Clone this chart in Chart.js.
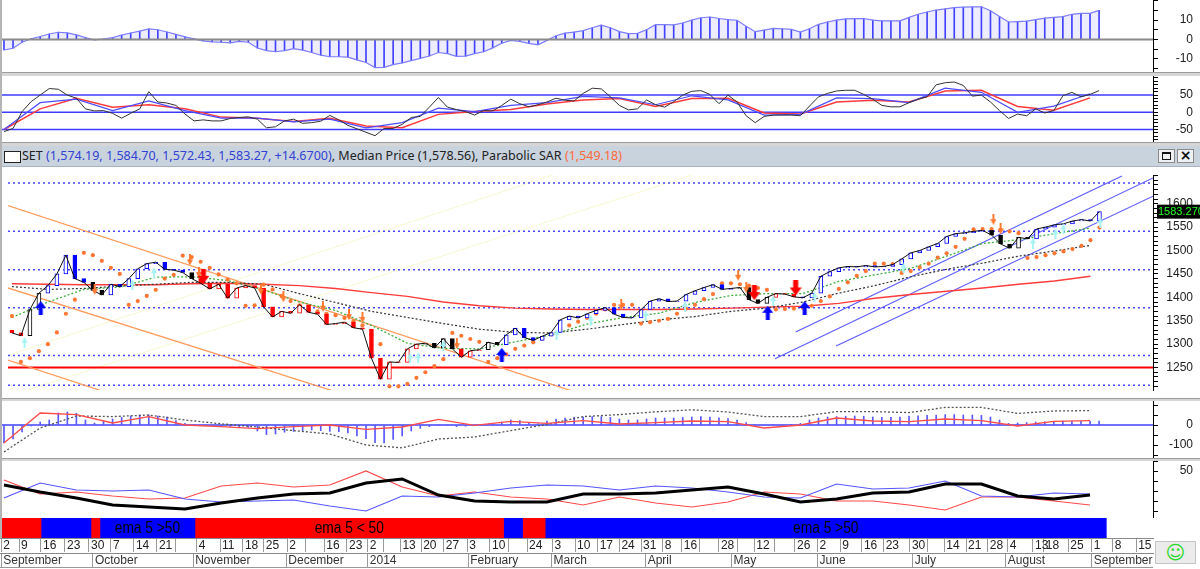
<!DOCTYPE html>
<html>
<head>
<meta charset="utf-8">
<script src="https://cdn.jsdelivr.net/npm/chart.js@4.4.1/dist/chart.umd.min.js"></script>
<style>
  html, body { margin: 0; padding: 0; background: #fff; }
  body { width: 1200px; height: 569px; position: relative; overflow: hidden; font-family: 'Liberation Sans', Arial, sans-serif; }
  canvas { position: absolute; left: 0; }
  .sep { position: absolute; left: 0; width: 1200px; background: #d6d6d6; border-top: 1px solid #9c9c9c; box-sizing: border-box; }
  #title { position: absolute; left: 0; top: 146px; width: 1200px; height: 21px; background: #c9d3de; border-bottom: 1px solid #a9b3c0; box-sizing: border-box;
           font: 12.5px 'Noto Sans', 'Open Sans', sans-serif; white-space: nowrap; }
  #title .ico { position: absolute; left: 4px; top: 5px; width: 15px; height: 10px; border: 1px solid #222; background: #fff; }
  #title .txt { position: absolute; left: 22px; top: 1px; color: #222; }
  #title .b { color: #3242d2; }
  #title .o { color: #ff6a3a; }
  .btn { position: absolute; top: 3px; width: 17px; height: 14px; background: #eef0f3; border: 1px solid #8a8a8a; box-sizing: border-box; }
  .btn .sq { position: absolute; left: 3px; top: 2px; width: 9px; height: 8px; border: 1px solid #111; border-top-width: 2px; box-sizing: border-box; }
  .btn .x { position: absolute; left: 0; top: -3px; width: 15px; text-align: center; font: bold 14px 'DejaVu Sans', sans-serif; color: #111; }
  #smile { position: absolute; left: 1155px; top: 541px; width: 41px; height: 23px; background: #ebebeb; border: 1px solid #c4c4c4; box-sizing: border-box;
           text-align: center; font: 19px 'DejaVu Sans', sans-serif; line-height: 21px; color: #2ad82a; }
  .vline { position: absolute; background: #b4b4b4; }
</style>
</head>
<body>
<canvas id="p1" width="1200" height="72" style="top:0px"></canvas>
<div class="sep" style="top:72px;height:4px"></div>
<canvas id="p2" width="1200" height="66" style="top:76px"></canvas>
<div class="sep" style="top:142px;height:4px"></div>
<div id="title">
  <div class="ico"></div>
  <div class="txt">SET <span class="b">(1,574.19, 1,584.70, 1,572.43, 1,583.27, +14.6700)</span>, Median Price (1,578.56), Parabolic SAR <span class="o">(1,549.18)</span></div>
  <div class="btn" style="left:1158px"><div class="sq"></div></div>
  <div class="btn" style="left:1177px"><div class="x">×</div></div>
</div>
<canvas id="main" width="1200" height="231" style="top:167px"></canvas>
<div class="sep" style="top:398px;height:3px"></div>
<canvas id="p4" width="1200" height="57" style="top:401px"></canvas>
<div class="sep" style="top:458px;height:3px"></div>
<canvas id="p5" width="1200" height="57" style="top:461px"></canvas>
<canvas id="p6" width="1200" height="51" style="top:518px"></canvas>
<div class="vline" style="left:0;top:0;width:2px;height:538px"></div>
<div class="vline" style="left:0;top:567px;width:1153px;height:1px;background:#999"></div>
<div id="smile">☺</div>
<script>
// x unit = one sample (two trading sessions), Sept 2 2013 = 0
const XMIN = -0.44;
const XMAX = 126.96;
const STEP = 4; // smoothed series are sampled every 4 units

// ---- main price panel ----
const FIRST_OPEN = 1330;
const CLOSE = [1324,1318,1374,1409,1425,1450,1490,1440,1432,1415,
  1405,1428,1423,1440,1461,1472,1475,1460,1458,1453,
  1440,1430,1418,1428,1398,1420,1425,1420,1380,1358,
  1370,1366,1384,1368,1364,1342,1344,1347,1335,1332,
  1270,1225,1262,1261,1290,1300,1302,1292,1312,1290,
  1272,1286,1288,1304,1299,1320,1334,1314,1308,1317,
  1325,1352,1360,1356,1365,1372,1378,1364,1357,1356,
  1374,1392,1397,1391,1392,1406,1414,1421,1427,1417,
  1419,1421,1395,1387,1400,1408,1407,1401,1399,1409,
  1445,1455,1463,1466,1465,1468,1465,1466,1470,1482,
  1495,1500,1508,1515,1530,1536,1538,1541,1543,1533,
  1514,1505,1528,1525,1546,1550,1555,1557,1563,1566,
  1563,1583];
const LAST_PRICE_LABEL = '1583.270';
const CANDLE_TRENDS = [[0,'down'],[2,'flat'],[4,'up'],[9,'flat'],[11,'up'],[20,'flat'],[21,'down'],[46,'flat'],[50,'down'],
  [53,'flat'],[55,'up'],[81,'flat'],[85,'down'],[88,'up'],[109,'flat'],[114,'up']];
const SAR = [1360,1262,1270,1285,1300,1325,1365,1395,1495,1490,
  1478,1463,1450,1384,1392,1403,1416,1440,1448,1489,
  1486,1476,1463,1449,1438,1430,1382,1383,1427,1417,
  1403,1392,1383,1375,1370,1365,1362,1356,1349,1340,
  1320,1300,1210,1210,1215,1228,1240,1253,1268,1324,
  1318,1311,1305,1262,1270,1278,1290,1297,1304,1312,
  1321,1331,1340,1348,1356,1365,1374,1384,1384,1384,
  1344,1347,1350,1354,1365,1376,1384,1396,1407,1430,
  1430,1428,1425,1420,1416,1374,1375,1376,1378,1382,
  1392,1402,1418,1432,1446,1456,1472,1472,1471,1452,
  1456,1464,1472,1485,1494,1508,1525,1545,1546,1546,
  1544,1541,1537,1484,1486,1490,1494,1498,1503,1510,
  1522,1549];
const EMA_FAST = [1357,1390,1417,1422,1443,1444,1436,1416,1390,1372,1340,1302,1291,1290,1305,1320,1343,1357,1366,1389,1404,1408,1408,1434,1448,1462,1488,1515,1523,1536,1548];
const EMA_MID = [1423,1417,1419,1424,1428,1432,1432,1428,1408,1389,1370,1357,1344,1332,1325,1324,1332,1342,1352,1359,1370,1377,1390,1409,1425,1444,1460,1473,1488,1499,1511];
const EMA_SLOW = [1429,1428,1427,1427,1427,1429,1430,1428,1425,1419,1410,1402,1390,1382,1377,1375,1374,1374,1374,1375,1377,1379,1381,1387,1398,1406,1413,1420,1428,1435,1445];
const LEVELS = [1644, 1541, 1459, 1378, 1276, 1212];
const SUPPORT_LEVEL = 1250;
const DOWN_CHANNEL = [[[-0.44,1596],[63.9,1190]], [[-0.44,1420],[37.4,1190]], [[-0.44,1266],[11.6,1190]]];
const UP_CHANNEL = [[[87.2,1326],[123.5,1659]], [[84.9,1269],[126.96,1655]], [[91.7,1296],[126.96,1616]]];
const FAINT_LINES = [[[-0.44,1276],[60.3,1662]], [[1.77,1202],[75.8,1662]]];
const BUY_BIG = [[3.2,1377],[54.5,1277],[84.1,1367],[88.2,1377]];
const SELL_BIG = [[21.3,1445],[82.6,1410],[87.2,1420]];
const SELL_SMALL = [[9.2,1417],[19.8,1480],[20.8,1453],[27.7,1417],[30.2,1401],[34.6,1381],[37.5,1363],[39,1357],
  [49.5,1301],[67.8,1384],[80.8,1447],[81.7,1421],[109.2,1566],[110,1546]];
const BUY_SMALL = [[1.4,1304],[13.4,1427],[15.8,1453],[44.3,1271],[45.2,1271],[48,1297],[60.6,1321],[64.4,1351],
  [70.5,1361],[74.9,1381],[84.7,1393],[89.3,1401],[99.2,1463],[113.6,1516],[116.1,1536],[117,1546],[121.1,1560]];

// ---- top histogram panel ----
const HIST1 = [-5.5,-4.6,-1.5,0.3,1.5,2.8,3.7,3.4,2.3,0.9,
  -0.3,0.2,0.9,2.2,3.3,4.3,5.4,5.0,3.8,2.6,
  1.3,0.3,-0.8,-1.3,-1.5,-1.8,-1.0,-1.5,-4.5,-5.8,
  -6.4,-5.8,-4.8,-5.6,-6.8,-8.2,-9.0,-9.0,-9.2,-10.6,
  -12.0,-14.6,-14.5,-13.1,-12.2,-11.0,-9.8,-8.6,-6.8,-7.4,
  -8.8,-8.7,-7.4,-6.4,-4.4,-2.0,-0.5,-1.0,-2.1,-2.8,
  -0.5,1.9,3.2,3.8,4.5,6.0,7.4,6.0,4.0,3.0,
  3.1,5.0,7.6,7.6,7.5,8.5,10.0,11.2,11.6,10.8,
  10.2,9.9,6.8,4.0,4.8,5.7,5.5,5.2,3.8,5.5,
  7.8,9.0,10.0,10.6,10.8,10.8,10.0,9.6,9.6,9.6,
  11.4,13.0,14.2,15.2,15.8,16.4,16.7,16.8,16.9,14.8,
  11.8,9.0,9.2,9.5,10.2,11.0,11.4,11.8,13.0,13.5,
  13.5,15.0];

// ---- oscillator panel ----
const STOCH_K = [-56,-47,2,31,50,69,67,50,41,10,
  4,5,-3,-17,-3,10,60,30,27,20,
  -5,-25,-22,-25,-25,-18,-15,-13,-20,-45,
  -42,-25,-20,-32,-30,-26,-9,-22,-38,-48,
  -58,-68,-47,-47,-35,-15,-12,15,43,15,
  8,2,-8,5,4,20,38,25,16,22,
  30,41,35,33,55,70,68,45,20,7,
  10,36,22,15,31,50,61,63,52,25,
  50,30,-10,-30,-12,-8,-8,-8,-10,18,
  45,55,62,64,64,52,38,20,16,16,
  28,38,45,80,86,88,78,47,50,30,
  5,-18,-5,-10,10,-2,5,48,58,45,
  52,63];
const STOCH_D = [-50,28,38,5,33,5,-17,-17,-28,-20,-45,-30,12,2,20,28,46,42,22,48,36,-8,-6,42,40,28,70,58,0,18,54];
const STOCH_S = [-50,10,41,15,22,10,-14,-17,-27,-17,-40,-45,-6,2,8,24,36,40,17,40,41,-2,-5,30,35,30,62,64,17,6,42];
const STOCH_LEVELS = [50, 0, -50];

// ---- lower oscillator with histogram ----
const HIST4 = [-90,-70,-35,-5,15,25,60,65,58,25,
  10,20,30,38,45,50,50,45,40,22,
  8,2,0,-3,-6,-8,-10,-12,-30,-48,
  -45,-36,-32,-28,-25,-28,-32,-33,-40,-55,
  -68,-88,-90,-72,-55,-30,-17,-8,0,-3,
  -8,-6,-3,0,5,15,25,22,12,6,
  20,30,35,38,40,42,42,38,30,25,
  25,30,35,35,35,38,40,42,40,36,
  32,25,12,2,0,2,0,3,8,25,
  35,40,42,44,45,44,40,38,38,40,
  44,46,48,50,52,52,50,50,48,40,
  25,8,10,12,15,16,18,20,20,18,
  18,20];
const OSC_LINE = [-90,60,52,10,42,0,-8,-18,-8,0,-22,-10,28,-2,18,8,22,5,12,20,17,-15,0,35,20,17,30,22,-5,18,22];
const OSC_DOTTED = [-135,-15,45,42,50,25,6,-10,-28,-45,-100,-114,-70,-60,-28,3,42,52,66,76,65,42,42,67,67,62,88,88,58,70,72];

// ---- directional movement panel ----
const ADX = [36,29,23,16,14,12,18,23,27,28,38,42,26,20,19,19,27,27,28,31,34,27,19,22,28,29,37,37,25,22,26];
const PLUS_DI = [23,38,31,30,31,22,19,20,21,15,10,25,24,28,33,36,35,31,35,33,29,24,23,37,32,33,40,25,24,28,27];
const MINUS_DI = [41,27,29,25,22,23,35,38,34,36,50,34,25,29,24,22,16,24,18,14,19,29,27,20,20,16,11,24,24,20,16];

// ---- ema state bar and time axis ----
const EMA_SEGMENTS = [[-0.44,4.09,'down',''],[4.09,9.61,'up',''],[9.61,10.6,'down',''],[10.6,21.1,'up','ema 5 >50'],
  [21.1,55.2,'down','ema 5 < 50'],[55.2,57.3,'up',''],[57.3,59.8,'down',''],[59.8,121.8,'up','ema 5 >50']];
const DATE_TICKS = [-0.3,1.66,4.09,6.74,9.39,11.82,14.36,16.9,18.9,21.3,23.87,26.4,28.7,31.3,33.3,35.4,37.9,40.2,41.9,43.8,
  46.1,48.6,51.2,53.7,55.7,57.8,60.6,63.1,65.6,68.0,70.4,72.8,74.9,76.9,79.0,81.0,82.9,85.1,87.4,89.9,92.4,94.8,97.2,
  100.1,102.0,103.9,106.3,108.7,110.9,113.7,114.9,117.6,120.2,122.5,125.1];
const DATE_LABELS = ['2','9','16','23','30','7','14','21','','4','11','18','25','2','','16','23','2','','13',
  '20','27','3','10','','24','3','10','17','24','31','8','16','','28','','12','','26','2','9','16','23',
  '30','','14','21','28','4','13','18','25','1','8','15'];
const MONTH_TICKS = [-0.3,9.83,20.9,31.2,40.2,51.3,60.5,70.9,80.4,89.9,100.4,110.7,120.2];
const MONTH_LABELS = ['September','October','November','December','2014','February','March','April','May','June','July','August','September'];

// ---------------------------------------------------------------
Chart.defaults.font.family = "'Liberation Sans', Arial, sans-serif";
Chart.defaults.font.size = 12;
Chart.defaults.color = '#222';
Chart.defaults.animation = false;
Chart.defaults.responsive = false;
Chart.defaults.events = [];
Chart.defaults.plugins.legend.display = false;
Chart.defaults.plugins.tooltip.enabled = false;

const TREND_COLOR = { up: '#0000ff', down: '#ff0000', flat: '#000000' };

const series = (arr, step) => arr.map((y, k) => ({ x: k * step, y }));
const pairs = list => list.map(([x, y]) => ({ x, y }));

function line(data, color, width, extra) {
  return Object.assign({ type: 'line', data, borderColor: color, borderWidth: width, pointRadius: 0, fill: false, tension: 0 }, extra || {});
}
function hLine(v, color, width, extra) {
  return line([{ x: XMIN, y: v }, { x: XMAX, y: v }], color, width, extra);
}

function hiddenX() {
  return { type: 'linear', min: XMIN, max: XMAX, offset: false, display: false };
}

// labels sit right-aligned near the canvas edge; edge padding is dropped so the plot fills the panel
function rightAxis(min, max, step, pad, show) {
  return {
    position: 'right', min, max,
    afterFit(scale) { scale.width = 40; scale.paddingTop = 0; scale.paddingBottom = 0; },
    ticks: {
      stepSize: step, includeBounds: false, autoSkip: false, crossAlign: 'far', padding: pad,
      color: '#222', font: { size: 12 },
      callback: v => (show(v) ? String(v) : '')
    },
    grid: { drawOnChartArea: false, tickLength: 5, color: '#000' },
    border: { color: '#000', width: 1 }
  };
}

function arrowIcon(color, w, h, dir) {
  const c = document.createElement('canvas');
  c.width = w; c.height = h;
  const g = c.getContext('2d');
  const head = Math.round(h * 0.5), sw = Math.max(2, Math.round(w * 0.4)), sx = (w - sw) / 2;
  g.fillStyle = color;
  g.beginPath();
  if (dir === 'up') {
    g.moveTo(w / 2, 0); g.lineTo(w, head); g.lineTo(sx + sw, head); g.lineTo(sx + sw, h);
    g.lineTo(sx, h); g.lineTo(sx, head); g.lineTo(0, head);
  } else {
    g.moveTo(w / 2, h); g.lineTo(w, h - head); g.lineTo(sx + sw, h - head); g.lineTo(sx + sw, 0);
    g.lineTo(sx, 0); g.lineTo(sx, h - head); g.lineTo(0, h - head);
  }
  g.closePath();
  g.fill();
  return c;
}

function trendAt(i) {
  let t = CANDLE_TRENDS[0][1];
  for (const [from, state] of CANDLE_TRENDS) if (i >= from) t = state;
  return t;
}
const openAt = i => (i === 0 ? FIRST_OPEN : CLOSE[i - 1]);

// top histogram
new Chart(document.getElementById('p1'), {
  type: 'bar',
  data: {
    datasets: [
      line(series(HIST1, 1), '#7c7cff', 1.2, { order: 1, fill: 'origin', backgroundColor: 'rgba(110,110,255,0.12)' }),
      hLine(0, '#8a8a8a', 2, { order: 0 }),
      { type: 'bar', data: series(HIST1, 1), backgroundColor: '#3c3cff', barThickness: 1, order: 2 }
    ]
  },
  options: {
    layout: { padding: { right: 7 } },
    scales: { x: hiddenX(), y: rightAxis(-16.9, 20.4, 5, 18, v => v % 10 === 0 && Math.abs(v) <= 10) }
  }
});

// oscillator lines
new Chart(document.getElementById('p2'), {
  type: 'line',
  data: {
    datasets: [
      line(series(STOCH_K, 1), '#333333', 1, { order: 0 }),
      line(series(STOCH_D, STEP), '#4d4dff', 1.2, { order: 1 }),
      line(series(STOCH_S, STEP), '#ff3b3b', 1.5, { order: 2 }),
      ...STOCH_LEVELS.map(v => hLine(v, '#3c3cff', 1.5, { order: 3 }))
    ]
  },
  options: {
    layout: { padding: { right: 7 } },
    scales: { x: hiddenX(), y: rightAxis(-86.3, 105.5, 10, 18, v => v % 50 === 0 && Math.abs(v) <= 50) }
  }
});

// main price panel
const lastPriceTag = {
  id: 'lastPriceTag',
  afterDraw(chart) {
    const { ctx, chartArea } = chart;
    const y = chart.scales.y.getPixelForValue(CLOSE[CLOSE.length - 1]);
    ctx.save();
    ctx.fillStyle = '#000';
    ctx.fillRect(chartArea.right + 4, y - 7, 43, 14);
    ctx.fillStyle = '#22ff22';
    ctx.font = "11px 'Liberation Sans', Arial, sans-serif";
    ctx.textBaseline = 'middle';
    ctx.fillText(LAST_PRICE_LABEL, chartArea.right + 5, y + 0.5);
    ctx.restore();
  }
};

const bigUp = arrowIcon('#0000ff', 11, 14, 'up');
const bigDown = arrowIcon('#ff0000', 12, 15, 'down');
const smallDown = arrowIcon('#ff7a30', 6, 11, 'down');
const smallUp = arrowIcon('#a8f4f4', 6, 11, 'up');

new Chart(document.getElementById('main'), {
  type: 'line',
  plugins: [lastPriceTag],
  data: {
    datasets: [
      { type: 'scatter', data: pairs(BUY_BIG), pointStyle: bigUp, pointRadius: 7, order: 0 },
      { type: 'scatter', data: pairs(SELL_BIG), pointStyle: bigDown, pointRadius: 7, order: 0 },
      { type: 'scatter', data: pairs(SELL_SMALL), pointStyle: smallDown, pointRadius: 5, order: 0 },
      { type: 'scatter', data: pairs(BUY_SMALL), pointStyle: smallUp, pointRadius: 5, order: 0 },
      line(series(CLOSE, 1), '#111111', 1, { order: 1 }),
      {
        type: 'bar', order: 2, barThickness: 4, borderWidth: 1, borderSkipped: false,
        data: CLOSE.map((c, i) => ({ x: i, y: [openAt(i), c] })),
        borderColor: ctx => TREND_COLOR[trendAt(ctx.dataIndex)],
        backgroundColor: ctx => (CLOSE[ctx.dataIndex] >= openAt(ctx.dataIndex) ? '#ffffff' : TREND_COLOR[trendAt(ctx.dataIndex)])
      },
      { type: 'scatter', data: series(SAR, 1), pointRadius: 2.1, pointBackgroundColor: '#ff7733', pointBorderWidth: 0, order: 3 },
      line(series(EMA_FAST, STEP), '#3fae3f', 1.3, { borderDash: [2, 2], order: 4 }),
      line(series(EMA_MID, STEP), '#333333', 1.2, { borderDash: [2, 2], order: 4 }),
      line(series(EMA_SLOW, STEP), '#ff3c3c', 1.4, { order: 4 }),
      ...UP_CHANNEL.map(p => line(pairs(p), '#5c5cff', 1.2, { order: 5 })),
      ...DOWN_CHANNEL.map(p => line(pairs(p), '#ff9d60', 1.3, { order: 5 })),
      hLine(SUPPORT_LEVEL, '#ff0000', 2, { order: 6 }),
      ...LEVELS.map(v => hLine(v, '#4646ff', 1.5, { borderDash: [2, 3], order: 6 })),
      ...FAINT_LINES.map(p => line(pairs(p), '#f8f8d0', 1, { order: 7 }))
    ]
  },
  options: {
    layout: { padding: { right: 7 } },
    scales: { x: hiddenX(), y: rightAxis(1202.1, 1661.3, 10, 8, v => v % 50 === 0 && v <= 1600) }
  }
});

// oscillator with histogram
new Chart(document.getElementById('p4'), {
  type: 'bar',
  data: {
    datasets: [
      line(series(OSC_LINE, STEP), '#ff4a4a', 1.3, { order: 0 }),
      line(series(OSC_DOTTED, STEP), '#555555', 1.3, { borderDash: [2, 2], order: 1 }),
      { type: 'bar', data: series(HIST4, 1), backgroundColor: '#5858ff', barThickness: 1, order: 2 },
      hLine(0, '#4040ff', 1.3, { order: 3 })
    ]
  },
  options: {
    layout: { padding: { right: 7 } },
    scales: { x: hiddenX(), y: rightAxis(-165, 120, 50, 10, v => v === 0 || v === -100) }
  }
});

// directional movement
new Chart(document.getElementById('p5'), {
  type: 'line',
  data: {
    datasets: [
      line(series(ADX, STEP), '#000000', 3, { order: 0 }),
      line(series(PLUS_DI, STEP), '#5555ff', 1.2, { order: 1 }),
      line(series(MINUS_DI, STEP), '#ff4a4a', 1.2, { order: 2 })
    ]
  },
  options: {
    layout: { padding: { right: 7 } },
    scales: { x: hiddenX(), y: rightAxis(3, 60, 10, 20, v => v === 50) }
  }
});

// ema state bar + date axis
const segmentText = {
  id: 'segmentText',
  afterDatasetsDraw(chart) {
    const { ctx } = chart;
    chart.data.datasets.forEach((ds, i) => {
      if (!ds.segText) return;
      const el = chart.getDatasetMeta(i).data[0];
      const { x, base, y } = el.getProps(['x', 'base', 'y'], true);
      ctx.save();
      ctx.translate((x + base) / 2, y + 1);
      ctx.scale(0.86, 1);
      ctx.fillStyle = '#000';
      ctx.font = "16px 'Liberation Sans', Arial, sans-serif";
      ctx.textAlign = 'center';
      ctx.textBaseline = 'middle';
      ctx.fillText(ds.segText, 0, 0);
      ctx.restore();
    });
  }
};

function timeAxis(ticks, labels, height, weight, color) {
  return {
    type: 'linear', position: 'bottom', min: XMIN, max: XMAX, offset: false, weight,
    afterBuildTicks(scale) { scale.ticks = ticks.map(value => ({ value })); },
    afterFit(scale) { scale.height = height; scale.paddingLeft = 0; scale.paddingRight = 0; },
    ticks: { autoSkip: false, maxRotation: 0, minRotation: 0, align: 'start', labelOffset: 2, padding: 1 - height,
             color, font: { size: 12 }, callback: (v, i) => labels[i] },
    grid: { drawOnChartArea: false, tickLength: height - 1, color: '#9a9a9a' },
    border: { color: '#8a8a8a' }
  };
}

new Chart(document.getElementById('p6'), {
  type: 'bar',
  plugins: [segmentText],
  data: {
    labels: ['ema'],
    datasets: EMA_SEGMENTS.map(s => ({
      data: [{ x: [s[0], s[1]], y: 'ema' }],
      backgroundColor: TREND_COLOR[s[2]], borderWidth: 0,
      grouped: false, barPercentage: 1, categoryPercentage: 1, segText: s[3]
    }))
  },
  options: {
    indexAxis: 'y',
    layout: { padding: { right: 7 } },
    scales: {
      x: timeAxis(DATE_TICKS, DATE_LABELS, 15, 0, '#222'),
      xm: Object.assign(timeAxis(MONTH_TICKS, MONTH_LABELS, 16, 1, '#333'), { axis: 'x' }),
      y: {
        type: 'category', position: 'right',
        afterFit(scale) { scale.width = 40; scale.paddingTop = 0; scale.paddingBottom = 0; },
        ticks: { display: false }, grid: { display: false }, border: { display: false }
      }
    }
  }
});
</script>
</body>
</html>
